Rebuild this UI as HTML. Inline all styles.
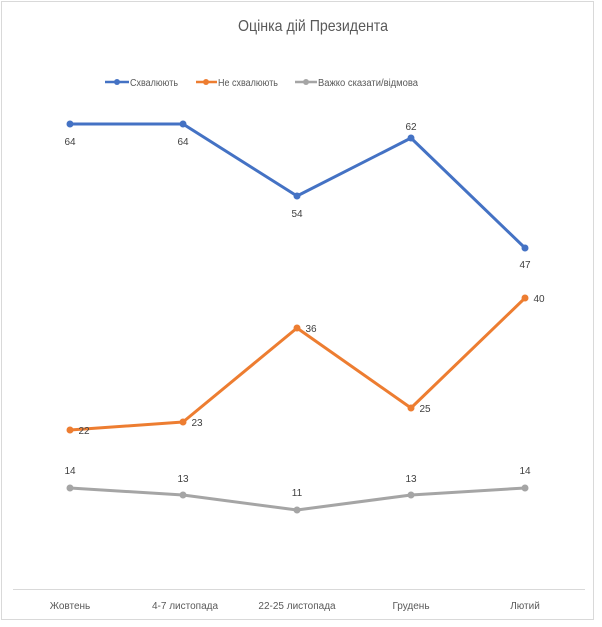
<!DOCTYPE html>
<html><head><meta charset="utf-8"><style>
html,body{margin:0;padding:0;background:#fff;}
svg{display:block;font-family:"Liberation Sans",sans-serif;}
</style></head><body>
<svg width="602" height="627" viewBox="0 0 602 627" xmlns="http://www.w3.org/2000/svg">
<rect x="1.5" y="1.5" width="592" height="618" fill="#fff" stroke="#d9d9d9" stroke-width="1"/>
<text x="313" y="31" text-anchor="middle" font-size="16" fill="#595959" textLength="150" lengthAdjust="spacingAndGlyphs">Оцінка дій Президента</text>
<g font-size="10" fill="#595959">
<line x1="105" y1="82" x2="129" y2="82" stroke="#4472c4" stroke-width="2.5"/><circle cx="117" cy="82" r="3" fill="#4472c4"/>
<text x="130" y="86" textLength="48" lengthAdjust="spacingAndGlyphs">Схвалюють</text>
<line x1="196" y1="82" x2="217" y2="82" stroke="#ed7d31" stroke-width="2.5"/><circle cx="206" cy="82" r="3" fill="#ed7d31"/>
<text x="218" y="86" textLength="60" lengthAdjust="spacingAndGlyphs">Не схвалюють</text>
<line x1="295" y1="82" x2="317" y2="82" stroke="#a5a5a5" stroke-width="2.5"/><circle cx="306" cy="82" r="3" fill="#a5a5a5"/>
<text x="318" y="86" textLength="100" lengthAdjust="spacingAndGlyphs">Важко сказати/відмова</text>
</g>
<line x1="13" y1="589.5" x2="585" y2="589.5" stroke="#d9d9d9" stroke-width="1"/>
<g font-size="10" fill="#595959" text-anchor="middle">
<text x="70" y="609">Жовтень</text>
<text x="185" y="609">4-7 листопада</text>
<text x="297" y="609">22-25 листопада</text>
<text x="411" y="609">Грудень</text>
<text x="525" y="609">Лютий</text>
</g>
<g stroke-width="3" fill="none" stroke-linejoin="round">
<polyline stroke="#4472c4" points="70,124 183,124 297,196 411,138 525,248"/>
<polyline stroke="#ed7d31" points="70,430 183,422 297,328 411,408 525,298"/>
<polyline stroke="#a5a5a5" points="70,488 183,495 297,510 411,495 525,488"/>
</g>
<g fill="#4472c4"><circle cx="70" cy="124" r="3.5"/><circle cx="183" cy="124" r="3.5"/><circle cx="297" cy="196" r="3.5"/><circle cx="411" cy="138" r="3.5"/><circle cx="525" cy="248" r="3.5"/></g>
<g fill="#ed7d31"><circle cx="70" cy="430" r="3.5"/><circle cx="183" cy="422" r="3.5"/><circle cx="297" cy="328" r="3.5"/><circle cx="411" cy="408" r="3.5"/><circle cx="525" cy="298" r="3.5"/></g>
<g fill="#a5a5a5"><circle cx="70" cy="488" r="3.5"/><circle cx="183" cy="495" r="3.5"/><circle cx="297" cy="510" r="3.5"/><circle cx="411" cy="495" r="3.5"/><circle cx="525" cy="488" r="3.5"/></g>
<g font-size="10" fill="#404040" text-anchor="middle">
<text x="70" y="145">64</text><text x="183" y="145">64</text><text x="297" y="217">54</text><text x="411" y="130">62</text><text x="525" y="268">47</text>
<text x="84" y="434">22</text><text x="197" y="426">23</text><text x="311" y="332">36</text><text x="425" y="412">25</text><text x="539" y="302">40</text>
<text x="70" y="474">14</text><text x="183" y="482">13</text><text x="297" y="496">11</text><text x="411" y="482">13</text><text x="525" y="474">14</text>
</g>
</svg>
</body></html>
